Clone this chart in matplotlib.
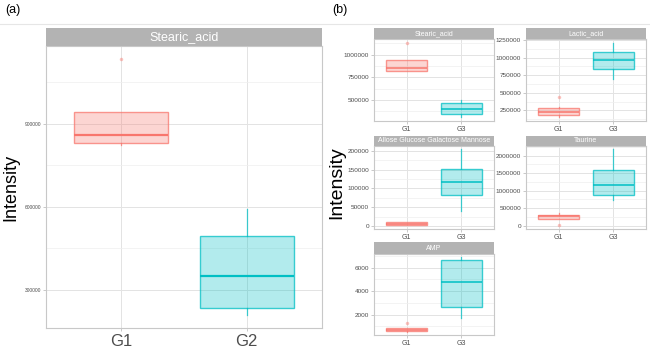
import matplotlib
matplotlib.use("Agg")
import matplotlib.pyplot as plt
from matplotlib.ticker import MultipleLocator, FuncFormatter

plt.rcParams['font.family'] = ['Liberation Sans', 'DejaVu Sans']

# ---- data: panel (a) ----
a_title = "Stearic_acid"
a_groups = ["G1", "G2"]
a_q1 = [831000, 235000]
a_med = [858000, 350000]
a_q3 = [943000, 493000]
a_lo = [824000, 209000]
a_hi = [943000, 592000]
a_fliers = [[1134000], []]

# ---- data: panel (b) ----
b_names = ["Stearic_acid", "Lactic_acid", "Allose Glucose Galactose Mannose", "Taurine", "AMP"]
b_groups = ["G1", "G3"]
b_q1 = [[823000, 344000], [185000, 839000], [3000, 83000], [183000, 877000], [622, 2676]]
b_med = [[851000, 405000], [222000, 970000], [6000, 117800], [260000, 1163000], [733, 4760]]
b_q3 = [[938000, 463000], [284000, 1079000], [10500, 152600], [297000, 1590000], [842, 6650]]
b_lo = [[820000, 311000], [150000, 690000], [2500, 40000], [183000, 743000], [560, 1720]]
b_hi = [[938000, 500000], [290000, 1210000], [10500, 203000], [354000, 2180000], [842, 6870]]
b_fliers = [[[1127000], []], [[434000], []], [[], []], [[10000], []], [[1300], []]]
b_major = [250000, 250000, 50000, 500000, 2000]

colors = ["#F8766D", "#00BFC4"]
W, H = 650, 349

fig = plt.figure(figsize=(W / 100, H / 100), dpi=100)


def add_px(x0, top, x1, bot, **kw):
    return fig.add_axes([x0 / W, (H - bot) / H, (x1 - x0) / W, (bot - top) / H], **kw)


def strip(x0, top, x1, bot, text, size):
    s = add_px(x0, top, x1, bot)
    s.set_facecolor("#B3B3B3")
    s.set_xticks([])
    s.set_yticks([])
    for sp in s.spines.values():
        sp.set_visible(False)
    s.text(0.5, 0.5, text, color="white", fontsize=size, ha="center", va="center",
           transform=s.transAxes)


def box_panel(ax, groups, q1, med, q3, lo, hi, fliers, major, tick_size, xtick_size, medlw):
    stats = []
    for i in range(len(groups)):
        stats.append(dict(q1=q1[i], med=med[i], q3=q3[i], whislo=lo[i], whishi=hi[i],
                          fliers=fliers[i]))
    allv = lo + hi + [v for f in fliers for v in f]
    vmin, vmax = min(allv), max(allv)
    pad = (vmax - vmin) * 0.05
    ax.set_ylim(vmin - pad, vmax + pad)
    ax.set_xlim(0.4, len(groups) + 0.6)
    ax.set_axisbelow(True)
    ax.yaxis.set_major_locator(MultipleLocator(major))
    ax.yaxis.set_minor_locator(MultipleLocator(major / 2))
    ax.grid(which="major", color="#E3E3E3", lw=0.7)
    ax.grid(which="minor", axis="y", color="#EFEFEF", lw=0.5)
    for i, st in enumerate(stats):
        c = colors[i]
        ax.bxp([st], positions=[i + 1], widths=0.75, patch_artist=True, showcaps=False,
               boxprops=dict(facecolor=matplotlib.colors.to_rgba(c, 0.3),
                             edgecolor=matplotlib.colors.to_rgba(c, 0.75), lw=1.0),
               medianprops=dict(color=c, lw=medlw),
               whiskerprops=dict(color=matplotlib.colors.to_rgba(c, 0.75), lw=0.9),
               flierprops=dict(marker="o", markersize=2.5, markerfacecolor=matplotlib.colors.to_rgba(c, 0.45),
                               markeredgecolor="none"))
    ax.set_xticks(range(1, len(groups) + 1))
    ax.set_xticklabels(groups)
    ax.yaxis.set_major_formatter(FuncFormatter(lambda v, p: "%d" % v))
    ax.tick_params(axis="y", labelsize=tick_size, colors="#B3B3B3", labelcolor="#4D4D4D",
                   length=2, width=0.5, pad=1.5)
    ax.tick_params(axis="x", labelsize=xtick_size, colors="#B3B3B3", labelcolor="#4D4D4D",
                   length=2, width=0.5, pad=1.5)
    ax.tick_params(which="minor", length=0)
    for sp in ax.spines.values():
        sp.set_color("#C8C8C8")
        sp.set_linewidth(0.8)


# separator line and panel labels
fig.add_artist(plt.Line2D([0, 1], [1 - 24 / H, 1 - 24 / H], color="#E6E6E6", lw=0.8))
fig.text(5 / W, 1 - 10 / H, "(a)", fontsize=9, va="center", ha="left")
fig.text(332 / W, 1 - 10 / H, "(b)", fontsize=9, va="center", ha="left")

# panel (a)
ax_a = add_px(46, 46, 322, 328)
strip(46, 28, 322, 46, a_title, 9)
box_panel(ax_a, a_groups, a_q1, a_med, a_q3, a_lo, a_hi, a_fliers, 300000, 3.5, 12, 1.6)
ax_a.tick_params(axis="x", pad=2)
fig.text(11 / W, 1 - 187 / H, "Intensity", fontsize=13, rotation=90, va="center", ha="center")

# panel (b)
cols = [(374, 494), (526, 646)]
rows = [(28.3, 39.3, 121), (136, 145.7, 229), (242.3, 253.7, 335.3)]
for k, name in enumerate(b_names):
    c0, c1 = cols[k % 2]
    s0, p0, p1 = rows[k // 2]
    ax = add_px(c0, p0, c1, p1)
    strip(c0, s0, c1, p0, name, 5)
    box_panel(ax, b_groups, b_q1[k], b_med[k], b_q3[k], b_lo[k], b_hi[k], b_fliers[k],
              b_major[k], 4.6, 5, 1.1)
fig.text(337 / W, 1 - 183 / H, "Intensity", fontsize=14, rotation=90, va="center", ha="center")

fig.savefig("out.png", dpi=100)
